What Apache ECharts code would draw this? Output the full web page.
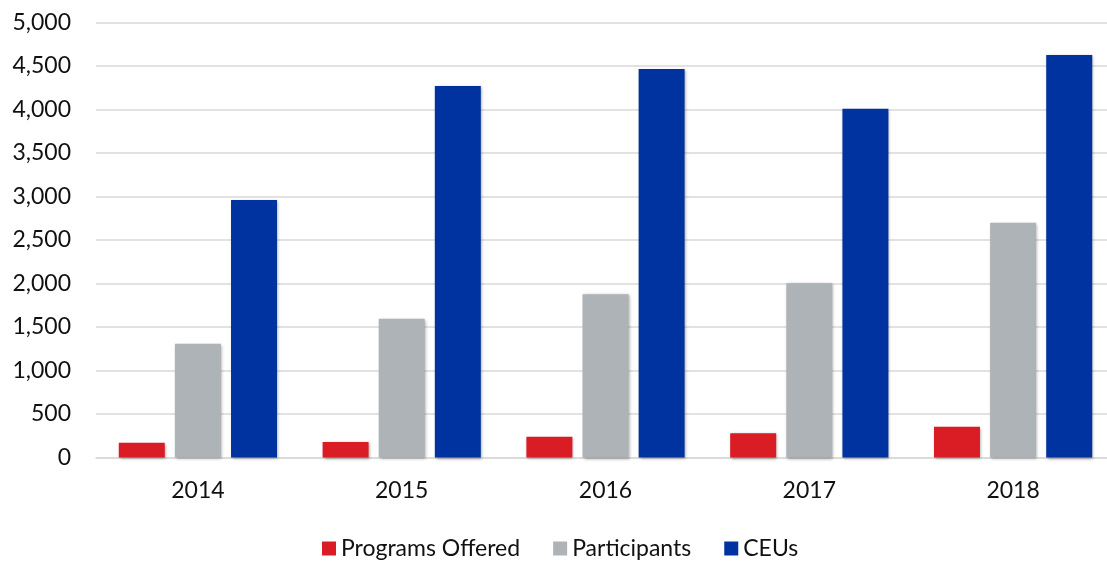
<!DOCTYPE html>
<html>
<head>
<meta charset="utf-8">
<script src="https://cdn.jsdelivr.net/npm/echarts@6/dist/echarts.min.js"></script>
<style>
  html, body { margin: 0; padding: 0; background: #fff; overflow: hidden; }
  /* plot runs a few px past the right edge of the picture, as in the source */
  #chart { width: 1115px; height: 563px; }
</style>
</head>
<body>
<div id="chart"></div>
<script>
// Data
const years = ['2014', '2015', '2016', '2017', '2018'];
const programsOffered = [170, 178, 239, 278, 354];
const participants = [1308, 1595, 1876, 2002, 2699];
const ceus = [2960, 4270, 4466, 4009, 4626];

const font = 'Lato';

// Slight drop shadow like the source bars
const barStyle = (color) => ({
    color: color,
    shadowBlur: 3,
    shadowColor: 'rgba(0,0,0,0.35)',
    shadowOffsetX: 1,
    shadowOffsetY: 1,
});

const chart = echarts.init(document.getElementById('chart'));

const options = {
    animation: false,
    textStyle: { fontFamily: font },
    legend: {
        top: 532,
        left: 317,
        itemWidth: 14,
        itemHeight: 14,
        itemGap: 33,
        icon: 'rect',
        textStyle: { fontFamily: font, fontSize: 23, color: '#111' },
        data: ['Programs Offered', 'Participants', 'CEUs'],
    },
    grid: {
        left: 96,
        right: 0,
        top: 22.5,
        bottom: 105.5,
        containLabel: false,
    },
    xAxis: {
        type: 'category',
        data: years,
        axisTick: { show: false },
        axisLine: { lineStyle: { color: '#d9d9d9', width: 1.5 } },
        axisLabel: { fontFamily: font, fontSize: 23, color: '#111', margin: 22 },
    },
    yAxis: {
        type: 'value',
        min: 0,
        max: 5000,
        interval: 500,
        axisLine: { show: false },
        axisTick: { show: false },
        splitLine: { lineStyle: { color: '#d9d9d9', width: 1.5 } },
        axisLabel: {
            fontFamily: font,
            fontSize: 23,
            color: '#111',
            margin: 25,
            formatter: (v) => v.toLocaleString('en-US'),
        },
    },
    series: [
        {
            name: 'Programs Offered',
            type: 'bar',
            data: programsOffered,
            barWidth: 46,
            barGap: '22%',
            itemStyle: barStyle('#da1c24'),
        },
        {
            name: 'Participants',
            type: 'bar',
            data: participants,
            barWidth: 46,
            barGap: '22%',
            itemStyle: barStyle('#aeb3b8'),
        },
        {
            name: 'CEUs',
            type: 'bar',
            data: ceus,
            barWidth: 46,
            barGap: '22%',
            itemStyle: barStyle('#0033a0'),
        },
    ],
};

chart.setOption(options);
</script>
</body>
</html>
